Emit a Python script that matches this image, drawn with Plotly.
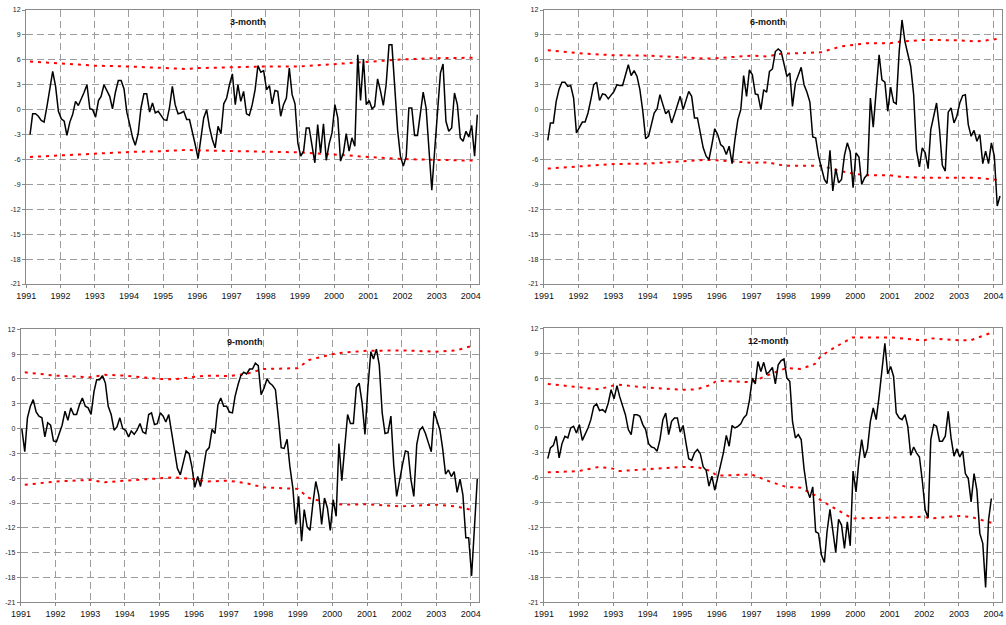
import pandas as pd
import plotly.graph_objects as go

# ---------------- data (monthly values) ----------------
titles = ["3-month", "6-month", "9-month", "12-month"]
series_start = ["1991-02", "1991-02", "1991-01", "1991-02"]

m3 = [-3.0, -0.5, -0.5, -0.8, -1.3, -1.5, 0.4, 2.8, 4.6, 2.8, -0.2, -1.1,
      -1.4, -3.1, -1.5, -0.6, 1.0, 0.5, 1.2, 2.1, 3.0, 0.1, 0.0, -0.9,
      1.1, 1.6, 3.0, 2.3, 1.6, 0.1, 2.1, 3.5, 3.5, 2.5, -0.3, -1.8,
      -3.4, -4.3, -2.9, 0.2, 1.9, 1.9, -0.3, 0.8, -0.4, -0.2, -0.7, -1.2,
      -1.3, 0.2, 2.8, 0.6, -0.5, -0.4, -0.2, -1.2, -1.2, -2.6, -4.2, -5.9,
      -3.4, -1.0, 0.0, -2.1, -3.6, -4.6, -2.0, -2.9, 0.7, 1.4, 3.0, 4.3,
      0.6, 3.0, 1.0, 2.2, -0.5, -0.7, 0.6, 2.4, 5.3, 4.5, 4.7, 2.4,
      2.9, 0.7, 2.3, 2.2, -0.8, 0.6, 1.4, 5.0, 1.8, 0.7, -4.0, -5.6,
      -5.0, -2.2, -2.2, -4.1, -6.4, -1.8, -5.2, -1.7, -6.1, -4.1, -2.8, 0.6,
      -1.0, -6.2, -5.2, -2.9, -5.0, -3.4, -4.4, 6.6, 1.1, 6.1, 0.6, 1.1,
      0.1, 0.4, 3.7, 2.3, 0.5, 3.0, 7.8, 7.8, 2.3, -2.5, -5.6, -6.8,
      -5.6, 0.2, 0.2, -3.1, -3.1, -0.8, 2.1, 0.2, -4.6, -9.7, -5.0, 0.2,
      4.4, 5.5, -1.4, -2.6, -2.2, 2.0, 0.6, -3.4, -3.8, -2.6, -3.3, -1.9,
      -5.6, -0.6]

m6 = [-3.7, -1.6, -1.6, 1.0, 2.5, 3.3, 3.3, 2.8, 2.9, 1.4, -2.8, -2.1,
      -1.5, -1.5, -0.4, 1.2, 3.0, 3.3, 1.1, 1.9, 1.8, 1.3, 1.7, 2.2,
      3.0, 2.9, 2.9, 4.1, 5.4, 4.1, 4.7, 4.0, 2.4, -0.2, -3.5, -3.2,
      -1.5, -0.4, 0.1, 1.8, 0.6, -0.5, -0.1, -1.6, -0.6, 0.4, 1.6, 0.0,
      1.1, 2.2, 1.6, -1.0, -1.0, -2.8, -4.6, -5.6, -6.0, -4.2, -2.3, -3.0,
      -4.2, -4.5, -5.4, -4.4, -6.5, -3.6, -1.2, 0.0, 4.1, 1.6, 4.8, 4.2,
      1.9, 1.8, 0.0, 2.4, 2.1, 4.6, 4.9, 7.0, 7.3, 7.0, 5.5, 4.0,
      4.4, 0.4, 3.2, 4.2, 5.1, 3.0, 2.1, 0.9, -3.3, -3.4, -5.6, -7.0,
      -8.4, -8.9, -4.9, -9.8, -7.1, -8.8, -8.4, -5.5, -4.0, -5.1, -9.4, -5.2,
      -5.7, -9.0, -8.2, -7.8, 1.4, -2.1, 2.0, 6.6, 3.6, 3.3, -0.2, 2.7,
      0.9, 0.7, 7.0, 10.8, 8.2, 6.7, 5.2, 1.8, -4.9, -6.9, -4.6, -5.2,
      -7.1, -2.4, -0.6, 0.8, -2.4, -6.7, -7.4, -0.3, 0.2, -1.6, -0.8, 0.8,
      1.7, 1.8, -1.8, -3.2, -2.5, -3.8, -3.0, -6.5, -5.0, -6.5, -4.0, -5.6,
      -11.6, -10.4]

m9 = [0.0, -2.8, 1.3, 2.7, 3.5, 2.0, 1.5, 1.3, -1.0, 0.7, 0.4, -1.5,
      -1.6, -0.6, 0.4, 2.1, 1.0, 2.5, 1.7, 1.7, 2.9, 3.7, 2.7, 2.5,
      1.7, 4.5, 5.9, 5.9, 6.4, 5.5, 2.7, 1.7, -0.2, 0.2, 1.3, 0.0,
      -0.2, -1.0, -0.3, -0.7, -0.2, 0.6, -0.4, -0.6, 1.7, 1.9, 0.5, 0.6,
      1.9, 1.5, 0.8, 1.7, -0.4, -2.9, -4.8, -5.6, -4.1, -2.7, -3.0, -4.6,
      -7.1, -5.8, -7.0, -4.7, -2.7, -2.3, -0.1, -0.6, 2.9, 3.7, 2.7, 2.7,
      2.0, 1.9, 3.9, 5.3, 6.4, 6.8, 6.6, 7.2, 7.2, 7.9, 7.6, 4.1,
      4.9, 6.0, 5.5, 5.2, 4.7, 1.3, -2.3, -2.4, -1.3, -4.6, -7.2, -11.6,
      -8.2, -13.6, -9.8, -11.9, -12.3, -9.0, -6.4, -8.0, -11.6, -8.4, -9.6, -12.3,
      -8.6, -10.6, -1.8, -6.3, -1.8, 1.7, 0.6, 0.6, 5.0, 5.5, 3.1, -0.7,
      4.9, 9.3, 8.4, 9.6, 7.7, 1.9, -0.6, -0.5, 1.5, -4.4, -8.2, -6.2,
      -4.4, -2.7, -2.8, -6.2, -8.2, -1.9, -0.2, 0.2, -0.6, -1.7, -2.8, 2.1,
      0.8, -0.2, -2.4, -5.5, -5.0, -5.8, -5.2, -7.7, -6.1, -8.0, -13.2, -13.2,
      -17.8, -11.3, -6.1]

m12 = [-3.7, -2.4, -2.1, -1.0, -3.6, -1.9, -1.0, -1.2, 0.0, 0.2, -0.6, 0.4,
       -1.5, -0.8, 0.0, 1.0, 2.6, 2.9, 2.1, 2.2, 1.9, 3.0, 4.6, 3.5,
       5.1, 3.8, 2.6, 1.6, -0.2, -0.8, 1.6, 1.6, 1.4, 0.4, -0.2, -1.9,
       -2.3, -2.4, -2.8, -1.4, 1.0, 1.8, -0.8, 0.8, 1.2, 1.2, -0.5, 0.3,
       -1.9, -3.7, -3.9, -3.0, -2.6, -3.1, -4.7, -5.1, -7.0, -5.8, -7.5, -6.0,
       -4.5, -3.0, -0.9, -2.2, 0.3, 0.0, 0.2, 0.5, 1.2, 1.6, 3.3, 6.0,
       5.3, 8.0, 6.8, 7.9, 6.5, 6.8, 7.3, 5.3, 7.6, 8.1, 8.3, 6.0,
       5.6, 0.8, -1.2, -0.8, -1.4, -4.9, -7.4, -8.4, -7.1, -12.5, -12.7, -15.3,
       -16.2, -12.5, -9.8, -12.3, -15.0, -11.0, -11.7, -14.5, -11.3, -14.2, -5.2, -7.7,
       -3.9, -1.4, -3.6, -2.5, 0.8, 2.4, 1.0, 3.8, 7.2, 10.2, 6.5, 7.4,
       6.2, 1.8, 1.2, 1.0, 1.6, 0.2, -3.3, -2.3, -3.0, -3.5, -6.3, -9.9,
       -10.8, -1.4, 0.4, 0.2, -1.6, -1.6, -1.0, 2.0, -1.2, -3.4, -2.5, -3.5,
       -2.8, -5.5, -6.1, -8.9, -5.5, -7.5, -12.7, -13.9, -19.2, -11.1, -8.5]

# confidence bands (red dotted)
b3_dates = ["1991-02-10", "1992-01-01", "1993-01-01", "1994-01-01", "1995-01-01", "1995-09-01",
            "1996-01-01", "1997-01-01", "1998-01-01", "1999-01-01", "2000-01-01", "2000-08-01",
            "2001-01-01", "2001-10-01", "2002-01-01", "2003-01-01", "2004-03-10"]
b3_up = [5.8, 5.6, 5.3, 5.2, 5.0, 4.9, 5.0, 5.1, 5.2, 5.2, 5.5, 5.7, 5.8, 6.0, 6.05, 6.2, 6.25]
b3_lo = [-5.7, -5.5, -5.25, -5.1, -5.0, -4.85, -4.9, -5.0, -5.05, -5.15, -5.4, -5.6, -5.7,
         -5.9, -5.95, -6.05, -6.15]

b6_dates = ["1991-02-10", "1992-01-01", "1993-01-01", "1994-01-01", "1995-01-01", "1995-09-01",
            "1996-01-01", "1997-01-01", "1997-07-01", "1997-10-01", "1998-01-01", "1999-01-01",
            "1999-08-01", "2000-01-01", "2000-05-01", "2001-01-01", "2001-05-01", "2002-01-01",
            "2003-01-01", "2003-07-01", "2004-03-10"]
b6_up = [7.15, 6.8, 6.55, 6.5, 6.3, 6.15, 6.2, 6.5, 6.4, 6.7, 6.75, 6.9, 7.6, 7.8, 8.0, 8.0,
         8.2, 8.4, 8.35, 8.2, 8.55]
b6_lo = [-7.1, -6.8, -6.55, -6.5, -6.2, -6.05, -6.1, -6.4, -6.35, -6.6, -6.75, -6.75, -7.4,
         -7.75, -7.9, -7.9, -8.1, -8.2, -8.2, -8.2, -8.5]

b9_dates = ["1991-02-10", "1992-01-01", "1993-01-01", "1993-06-01", "1994-01-01", "1995-01-01",
            "1995-06-01", "1996-01-01", "1996-05-01", "1997-01-01", "1997-07-01", "1998-01-01",
            "1999-01-01", "1999-05-01", "2000-01-01", "2000-05-01", "2001-01-01", "2002-01-01",
            "2003-01-01", "2003-08-01", "2004-02-01"]
b9_up = [6.8, 6.4, 6.2, 6.5, 6.4, 6.0, 5.95, 6.25, 6.4, 6.35, 6.6, 7.2, 7.3, 8.3, 9.0, 9.2,
         9.4, 9.45, 9.3, 9.45, 10.05]
b9_lo = [-6.8, -6.4, -6.2, -6.5, -6.3, -6.0, -5.9, -6.1, -6.4, -6.3, -6.6, -7.1, -7.3, -8.4,
         -9.1, -9.2, -9.15, -9.4, -9.2, -9.4, -9.9]

b12_dates = ["1991-02-10", "1992-01-01", "1992-08-01", "1993-01-01", "1993-03-01", "1994-01-01",
             "1995-01-01", "1995-06-01", "1995-11-01", "1996-01-01", "1997-01-01", "1997-07-01",
             "1998-01-01", "1998-06-01", "1998-11-01", "1999-01-01", "1999-05-01", "1999-12-01",
             "2001-01-01", "2002-01-01", "2002-03-01", "2003-01-01", "2003-05-01", "2004-01-01"]
b12_up = [5.3, 4.9, 4.65, 5.1, 5.2, 4.85, 4.6, 4.65, 5.2, 5.7, 5.5, 6.4, 7.2, 7.1, 7.7, 8.6,
          9.5, 10.9, 10.9, 10.55, 10.8, 10.55, 10.55, 11.55]
b12_lo = [-5.35, -5.2, -4.7, -4.9, -5.2, -5.0, -4.7, -4.7, -5.2, -5.75, -5.6, -6.4, -7.1, -7.2,
          -8.1, -8.7, -9.5, -10.9, -10.8, -10.7, -10.9, -10.6, -10.7, -11.5]

y_ticks = list(range(12, -22, -3))

# ---------------- figure ----------------
values = [m3, m6, m9, m12]
bands = [(b3_dates, b3_up, b3_lo), (b6_dates, b6_up, b6_lo),
         (b9_dates, b9_up, b9_lo), (b12_dates, b12_up, b12_lo)]

W, H = 1006, 625
# plot-area rectangles in pixels (left, right, top, bottom)
boxes = [(26, 479, 10, 284), (543.7, 1001.7, 10, 284),
         (20.7, 479, 329.3, 602.3), (543.7, 1001.7, 328.3, 602.3)]

fig = go.Figure()
font_fam = "Liberation Sans, Arial, sans-serif"

for i in range(4):
    ax = "" if i == 0 else str(i + 1)
    xr, yr = "x" + ax, "y" + ax
    dates = pd.date_range(series_start[i] + "-01", periods=len(values[i]), freq="MS") + pd.Timedelta(days=9)
    bd, bu, bl = bands[i]
    for yy in (bu, bl):
        fig.add_trace(go.Scatter(x=bd, y=yy, mode="lines", xaxis=xr, yaxis=yr,
                                 line=dict(color="#ff0000", width=2, dash="3px,5px"),
                                 showlegend=False, hoverinfo="skip"))
    fig.add_trace(go.Scatter(x=dates, y=values[i], mode="lines", xaxis=xr, yaxis=yr,
                             line=dict(color="black", width=1.5), showlegend=False))

    l, r, t, b = boxes[i]
    fig.layout["xaxis" + ax] = dict(
        domain=[l / W, r / W], anchor=yr, type="date", automargin=False,
        range=["1990-12-29", "2004-03-28"],
        tick0="1991-01-01", dtick="M12", tickformat="%Y",
        showgrid=True, gridcolor="#9c9c9c", gridwidth=1, griddash="7px,4px",
        showline=True, linecolor="#8a8a8a", linewidth=1, mirror=True,
        ticks="outside", ticklen=3, tickcolor="#8a8a8a",
        tickfont=dict(family=font_fam, size=9, color="#111"),
        zeroline=False, fixedrange=True)
    fig.layout["yaxis" + ax] = dict(
        domain=[1 - b / H, 1 - t / H], anchor=xr, automargin=False,
        range=[-21, 12], tickvals=y_ticks, ticktext=[str(v) for v in y_ticks],
        showgrid=True, gridcolor="#9c9c9c", gridwidth=1, griddash="7px,4px",
        showline=True, linecolor="#8a8a8a", linewidth=1, mirror=True,
        ticks="outside", ticklen=3, tickcolor="#8a8a8a",
        tickfont=dict(family=font_fam, size=7, color="#222"),
        zeroline=False, fixedrange=True)
    fig.add_annotation(text="<b>%s</b>" % titles[i], x=0.49, y=0.955,
                       xref=xr + " domain", yref=yr + " domain",
                       xanchor="center", yanchor="middle",
                       showarrow=False, font=dict(family=font_fam, size=9, color="#111"))

fig.update_layout(width=W, height=H, margin=dict(l=0, r=0, t=0, b=0),
                  paper_bgcolor="white", plot_bgcolor="white")

fig.write_html("out.html", config={"displayModeBar": False},
               post_script="document.body.style.margin='0';document.body.style.overflow='hidden';")
